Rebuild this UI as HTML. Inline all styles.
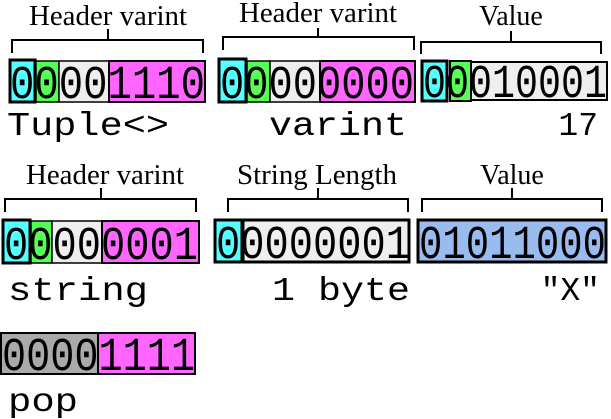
<!DOCTYPE html>
<html><head><style>html,body{margin:0;padding:0;background:#fff}svg{display:block}</style></head><body>
<svg width="611" height="419" xmlns="http://www.w3.org/2000/svg">
<style>
.d{font-family:"Liberation Mono",monospace;font-size:47px}
.m{font-family:"Liberation Mono",monospace;font-size:33px}
.s{font-family:"Liberation Serif",serif;font-size:28px}
.b{fill:none;stroke:#000;stroke-width:2}
</style>
<path class="b" d="M12,53V40H203V53M108,40V29"/>
<path class="b" d="M223,50V37H414V50M318,37V28"/>
<path class="b" d="M421,54V42H601V54M511,42V31"/>
<text class="s" x="108" y="25" text-anchor="middle" textLength="158" lengthAdjust="spacingAndGlyphs">Header varint</text>
<text class="s" x="318" y="22" text-anchor="middle" textLength="158" lengthAdjust="spacingAndGlyphs">Header varint</text>
<text class="s" x="511" y="25" text-anchor="middle">Value</text>
<rect x="36" y="61" width="23" height="41" fill="#5f5" stroke="#000" stroke-width="1.5"/>
<rect x="59" y="61" width="50" height="41" fill="#eee" stroke="#000" stroke-width="1.5"/>
<rect x="109" y="61" width="96" height="41" fill="#f6f" stroke="#000" stroke-width="2"/>
<rect x="10" y="60" width="25" height="42" fill="#5ff" stroke="#000" stroke-width="3"/>
<text class="d" x="10" y="98" textLength="195" lengthAdjust="spacingAndGlyphs">00001110</text>
<rect x="247" y="61" width="23" height="41" fill="#5f5" stroke="#000" stroke-width="1.5"/>
<rect x="270" y="61" width="50" height="41" fill="#eee" stroke="#000" stroke-width="1.5"/>
<rect x="320" y="61" width="95" height="41" fill="#f6f" stroke="#000" stroke-width="2"/>
<rect x="219" y="59" width="27" height="43" fill="#5ff" stroke="#000" stroke-width="3"/>
<text class="d" x="220" y="98" textLength="194" lengthAdjust="spacingAndGlyphs">00000000</text>
<rect x="471" y="62" width="136" height="38" fill="#eee" stroke="#000" stroke-width="2"/>
<rect x="450" y="61" width="21" height="40" fill="#5f5" stroke="#000" stroke-width="2"/>
<rect x="422" y="61" width="25" height="40" fill="#5ff" stroke="#000" stroke-width="3"/>
<text class="d" x="423" y="97" textLength="184" lengthAdjust="spacingAndGlyphs">00010001</text>
<text class="m" x="7" y="135" textLength="162" lengthAdjust="spacingAndGlyphs">Tuple&lt;&gt;</text>
<text class="m" x="407" y="135" text-anchor="end" textLength="138" lengthAdjust="spacingAndGlyphs">varint</text>
<text class="m" x="598" y="135" text-anchor="end">17</text>
<path class="b" d="M5,212V199H196V212M101,199V188"/>
<path class="b" d="M228,212V199H408V212M318,199V188"/>
<path class="b" d="M422,212V199H602V212M512,199V188"/>
<text class="s" x="105" y="184" text-anchor="middle" textLength="158" lengthAdjust="spacingAndGlyphs">Header varint</text>
<text class="s" x="317" y="184" text-anchor="middle" textLength="160" lengthAdjust="spacingAndGlyphs">String Length</text>
<text class="s" x="512" y="184" text-anchor="middle">Value</text>
<rect x="31" y="221" width="21" height="42" fill="#5f5" stroke="#000" stroke-width="1.5"/>
<rect x="52" y="221" width="50" height="42" fill="#eee" stroke="#000" stroke-width="1.5"/>
<rect x="102" y="221" width="97" height="42" fill="#f6f" stroke="#000" stroke-width="2"/>
<rect x="3" y="220" width="27" height="43" fill="#5ff" stroke="#000" stroke-width="3"/>
<text class="d" x="4" y="259" textLength="194" lengthAdjust="spacingAndGlyphs">00000001</text>
<rect x="243" y="220" width="166" height="42" fill="#eee" stroke="#000" stroke-width="3"/>
<rect x="215" y="220" width="27" height="42" fill="#5ff" stroke="#000" stroke-width="3"/>
<text class="d" x="216" y="258" textLength="194" lengthAdjust="spacingAndGlyphs">00000001</text>
<rect x="418" y="220" width="188" height="42" fill="#9be" stroke="#000" stroke-width="3"/>
<text class="d" x="419" y="258" textLength="187" lengthAdjust="spacingAndGlyphs">01011000</text>
<text class="m" x="8" y="300" textLength="140" lengthAdjust="spacingAndGlyphs">string</text>
<text class="m" x="410" y="300" text-anchor="end" textLength="138" lengthAdjust="spacingAndGlyphs">1 byte</text>
<text class="m" x="600" y="300" text-anchor="end">"X"</text>
<rect x="1" y="333" width="97" height="41" fill="#aaa" stroke="#000" stroke-width="2"/>
<rect x="98" y="333" width="97" height="41" fill="#f6f" stroke="#000" stroke-width="2"/>
<text class="d" x="2" y="370" textLength="193" lengthAdjust="spacingAndGlyphs">00001111</text>
<text class="m" x="8" y="411" textLength="70" lengthAdjust="spacingAndGlyphs">pop</text>
</svg>
</body></html>
